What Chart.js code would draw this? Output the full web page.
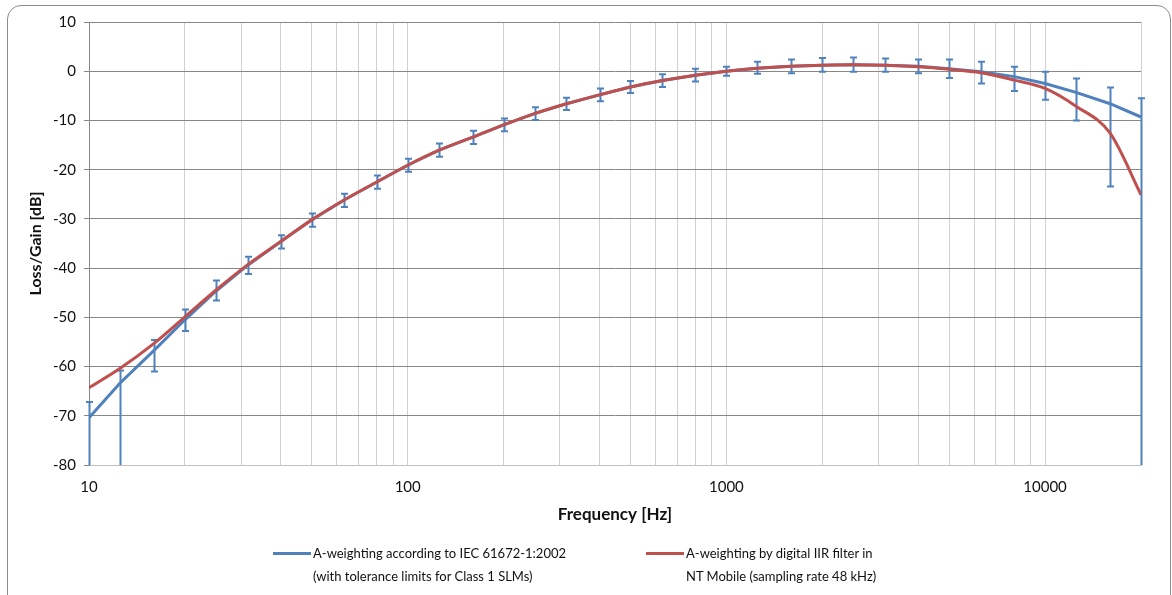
<!DOCTYPE html>
<html>
<head>
<meta charset="utf-8">
<script src="https://cdn.jsdelivr.net/npm/chart.js@4"></script>
<style>
  body { margin: 0; background: #fff; font-family: Lato, sans-serif; }
  #wrap { position: relative; width: 1172px; height: 595px; overflow: hidden; }
  #frame { position: absolute; left: 7px; top: 5px; width: 1162px; height: 640px;
           border: 1px solid #8c8c8c; border-radius: 14px; }
  canvas { position: absolute; left: 0; top: 0; }
  .leg { position: absolute; top: 542px; font-size: 13px; line-height: 23px; color: #111; }
  .leg .swatch { position: absolute; left: -40px; top: 10px; width: 38px; height: 3px; }
</style>
</head>
<body>
<div id="wrap">
  <div id="frame"></div>
  <canvas id="myChart" width="1172" height="595"></canvas>
  <div class="leg" style="left:313px"><span class="swatch" style="background:#4F81BD"></span>A-weighting according to IEC 61672-1:2002<br>(with tolerance limits for Class 1 SLMs)</div>
  <div class="leg" style="left:686px"><span class="swatch" style="background:#C0504D"></span>A-weighting by digital IIR filter in<br>NT Mobile (sampling rate 48 kHz)</div>
</div>
<script>
// 1/3 octave frequencies [Hz]
const freqs = [10, 12.5, 16, 20, 25, 31.5, 40, 50, 63, 80, 100, 125, 160, 200, 250, 315, 400, 500, 630, 800,
  1000, 1250, 1600, 2000, 2500, 3150, 4000, 5000, 6300, 8000, 10000, 12500, 16000, 20000];
// A-weighting per IEC 61672-1
const aWeight = [-70.4, -63.4, -56.7, -50.5, -44.7, -39.4, -34.6, -30.2, -26.2, -22.5, -19.1, -16.1, -13.4, -10.9, -8.6, -6.6, -4.8, -3.2, -1.9, -0.8,
  0, 0.6, 1.0, 1.2, 1.3, 1.2, 1.0, 0.5, -0.1, -1.1, -2.5, -4.3, -6.6, -9.3];
// tolerance limits (dB above / below), null = down to -infinity
const tolUp = [3.2, 2.6, 2.1, 2.1, 2.2, 1.7, 1.3, 1.3, 1.3, 1.3, 1.3, 1.4, 1.3, 1.3, 1.3, 1.2, 1.3, 1.2, 1.3, 1.3,
  0.9, 1.3, 1.4, 1.5, 1.5, 1.4, 1.4, 1.9, 2.0, 2.0, 2.4, 2.8, 3.3, 3.8];
const tolDown = [null, null, 4.3, 2.3, 1.9, 1.8, 1.4, 1.4, 1.4, 1.4, 1.3, 1.3, 1.4, 1.3, 1.3, 1.3, 1.3, 1.2, 1.3, 1.3,
  0.9, 1.1, 1.4, 1.3, 1.4, 1.3, 1.4, 1.9, 2.4, 2.9, 3.3, 5.7, 16.8, null];
// digital IIR filter response (read at the same frequencies)
const iirFilter = [-64.3, -60.4, -55.3, -49.9, -44.5, -39.3, -34.6, -30.2, -26.2, -22.5, -19.1, -16.1, -13.4, -10.9, -8.6, -6.6, -4.8, -3.2, -1.9, -0.8,
  0, 0.6, 1.0, 1.2, 1.3, 1.2, 0.9, 0.4, -0.3, -1.8, -3.5, -7.1, -12.6, -25.1];
// vertical grid positions and labelled decades
const xGrid = [10, 20, 30, 40, 50, 60, 70, 80, 90, 100, 200, 300, 400, 500, 600, 700, 800, 900,
  1000, 2000, 3000, 4000, 5000, 6000, 7000, 8000, 9000, 10000, 20000];
const xLabels = [10, 100, 1000, 10000];

const blue = '#4F81BD';
const red = '#C0504D';

// tolerance bars drawn under the lines
const errorBars = {
  id: 'errorBars',
  beforeDatasetsDraw(chart) {
    const ctx = chart.ctx;
    const x = chart.scales.x, y = chart.scales.y;
    ctx.save();
    ctx.strokeStyle = blue;
    ctx.lineWidth = 2;
    freqs.forEach((f, i) => {
      const px = Math.round(x.getPixelForValue(f)) + 0.5;
      const top = y.getPixelForValue(aWeight[i] + tolUp[i]);
      const bot = tolDown[i] === null ? y.getPixelForValue(y.min) : y.getPixelForValue(aWeight[i] - tolDown[i]);
      ctx.beginPath();
      ctx.moveTo(px, top);
      ctx.lineTo(px, bot);
      ctx.moveTo(px - 3.5, top);
      ctx.lineTo(px + 3.5, top);
      if (tolDown[i] !== null) {
        ctx.moveTo(px - 3.5, bot);
        ctx.lineTo(px + 3.5, bot);
      }
      ctx.stroke();
    });
    ctx.restore();
  }
};

const data = {
  datasets: [{
    label: 'A-weighting by digital IIR filter in NT Mobile (sampling rate 48 kHz)',
    data: freqs.map((f, i) => ({ x: f, y: iirFilter[i] })),
    borderColor: red,
    borderWidth: 3,
    pointRadius: 0,
    cubicInterpolationMode: 'monotone'
  }, {
    label: 'A-weighting according to IEC 61672-1:2002 (with tolerance limits for Class 1 SLMs)',
    data: freqs.map((f, i) => ({ x: f, y: aWeight[i] })),
    borderColor: blue,
    borderWidth: 3,
    pointRadius: 0,
    tension: 0
  }]
};

const config = {
  type: 'line',
  data,
  options: {
    responsive: false,
    animation: false,
    layout: { padding: { left: 26, right: 31, top: 22, bottom: 70 } },
    plugins: { legend: { display: false }, tooltip: { enabled: false } },
    scales: {
      x: {
        type: 'logarithmic',
        min: 10,
        max: 20000,
        afterBuildTicks: (scale) => { scale.ticks = xGrid.map(v => ({ value: v })); },
        afterFit: (scale) => { scale.height = 60; },
        ticks: {
          autoSkip: false,
          maxRotation: 0,
          padding: 13,
          color: '#111',
          font: { family: 'Lato', size: 15 },
          // '' keeps the grid line, only decades get a label
          callback: (v) => xLabels.includes(v) ? String(v) : ''
        },
        grid: { color: '#d0d0d0', drawTicks: false },
        border: { color: '#bfbfbf' },
        title: {
          display: true,
          text: 'Frequency [Hz]',
          color: '#111',
          padding: { top: 0, bottom: 0 },
          font: { family: 'Lato', size: 17, weight: 'bold' }
        }
      },
      y: {
        min: -80,
        max: 10,
        afterFit: (scale) => { scale.width = 89 - 26; },
        ticks: {
          stepSize: 10,
          padding: 8,
          color: '#111',
          font: { family: 'Lato', size: 15 }
        },
        grid: { color: '#878787', tickLength: 5 },
        border: { color: '#878787' },
        title: {
          display: true,
          text: 'Loss/Gain [dB]',
          color: '#111',
          padding: { top: 0, bottom: 0 },
          font: { family: 'Lato', size: 16, weight: 'bold' }
        }
      }
    }
  },
  plugins: [errorBars]
};

var myChart = new Chart(document.getElementById('myChart'), config);
</script>
</body>
</html>
